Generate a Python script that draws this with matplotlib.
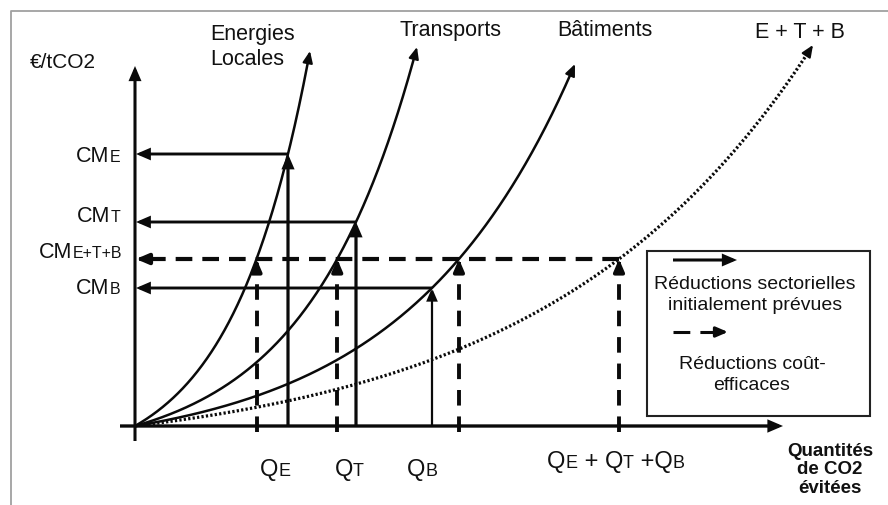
import numpy as np
import matplotlib
matplotlib.use("Agg")
import matplotlib.pyplot as plt
from matplotlib.patches import FancyArrowPatch, Rectangle
from matplotlib.lines import Line2D
from matplotlib.offsetbox import TextArea, HPacker, AnnotationBbox

plt.rcParams['font.family'] = ['Liberation Sans', 'DejaVu Sans']

# ---------------- data (schematic units) ----------------
sector_keys = ['E', 'T', 'B']
curve_labels = ['Energies\nLocales', 'Transports', 'Bâtiments', 'E + T + B']
cm_initial = [272, 204, 138]          # CM_E, CM_T, CM_B
q_initial = [153, 221, 297]           # Q_E, Q_T, Q_B
cm_common = 167                       # CM_E+T+B
q_total = 484                         # Q_E + Q_T + Q_B
tips_x = [175, 282, 440, 678]         # end of each curve (arrow tip)
tips_y = [375, 379, 362, 381]
legend_texts = ['Réductions sectorielles\ninitialement prévues',
                'Réductions coût-\nefficaces']
y_axis_label = '€/tCO2'
x_axis_label = 'Quantités\nde CO2\névitées'

# ---------------- figure ----------------
fig = plt.figure(figsize=(8.88, 5.06), dpi=100)
ax = fig.add_axes([0, 0, 1, 1])
ax.set_xlim(-135, 753)
ax.set_ylim(-79, 427)
ax.axis('off')


def fit_curve(x1, y1, x2, y2):
    """parameters of y = a*(exp(b x)-1) passing through two points"""
    target = y2 / y1
    lo, hi = 1e-7, 0.2
    for _ in range(200):
        mid = 0.5 * (lo + hi)
        r = np.expm1(mid * x2) / np.expm1(mid * x1)
        if r < target:
            lo = mid
        else:
            hi = mid
    b = 0.5 * (lo + hi)
    a = y1 / np.expm1(b * x1)
    return a, b


HEAD = '-|>,head_length=0.7,head_width=0.3'
INK = '#0a0a0a'


def head(x0, y0, x1, y1, lw):
    p = FancyArrowPatch((x0, y0), (x1, y1), arrowstyle=HEAD, mutation_scale=10,
                        lw=lw, color=INK, shrinkA=0, shrinkB=0, zorder=4)
    ax.add_patch(p)


def solid_arrow(x0, y0, x1, y1, lw):
    p = FancyArrowPatch((x0, y0), (x1, y1), arrowstyle=HEAD, mutation_scale=10,
                        lw=lw, color=INK, shrinkA=0, shrinkB=0,
                        joinstyle='miter', capstyle='butt', zorder=4)
    ax.add_patch(p)


def dashed_arrow(x0, y0, x1, y1, lw, dashes):
    L = np.hypot(x1 - x0, y1 - y0)
    ux, uy = (x1 - x0) / L, (y1 - y0) / L
    hl = 9
    ax.plot([x0, x1 - ux * hl], [y0, y1 - uy * hl], color=INK, lw=lw,
            dashes=dashes, solid_capstyle='butt', dash_capstyle='butt', zorder=3)
    head(x1 - ux * hl, y1 - uy * hl, x1, y1, lw)


# ---------------- axes ----------------
solid_arrow(0, -15, 0, 360, 2.2)
solid_arrow(-15, 0, 648, 0, 2.4)

# ---------------- curves ----------------
params = []
anchors_x = q_initial + [q_total]
anchors_y = cm_initial + [cm_common]
for i in range(4):
    a, b = fit_curve(anchors_x[i], anchors_y[i], tips_x[i], tips_y[i])
    params.append((a, b))
    x_end = np.log1p(tips_y[i] / a) / b
    xs = np.linspace(0, x_end, 400)
    ys = a * np.expm1(b * xs)
    d = np.hypot(xs - xs[-1], ys - ys[-1])
    k = np.argmin(np.abs(d - 9))
    if i < 3:
        ax.plot(xs[:k + 1], ys[:k + 1], color=INK, lw=1.8, zorder=2,
                solid_capstyle='butt')
    else:
        ax.plot(xs[:k + 1], ys[:k + 1], color=INK, lw=2.3, zorder=2,
                dashes=(0.7, 0.7), dash_capstyle='butt')
    head(xs[k], ys[k], xs[-1], ys[-1], 1.5)

# ---------------- initial (solid) reductions ----------------
v_lw = [2.3, 2.3, 1.6]
for i in range(3):
    solid_arrow(q_initial[i], cm_initial[i], 1, cm_initial[i], 2.1)
    solid_arrow(q_initial[i], 0, q_initial[i], cm_initial[i], v_lw[i])

# ---------------- cost-efficient (dashed) reductions ----------------
q_eff = [np.log1p(cm_common / a) / b for (a, b) in params[:3]]
dashed_arrow(q_total, cm_common, 1, cm_common, 3.0, (4.0, 2.4))
for q in q_eff + [q_total]:
    dashed_arrow(q, -6, q, cm_common, 2.8, (4.0, 2.8))

# ---------------- labels ----------------
txt_kw = dict(color='#111111')
ax.text(75, 380, curve_labels[0], fontsize=15.5, ha='left', va='center',
        linespacing=1.3, **txt_kw)
ax.text(315, 397, curve_labels[1], fontsize=15.5, ha='center', va='center', **txt_kw)
ax.text(470, 397, curve_labels[2], fontsize=15.5, ha='center', va='center', **txt_kw)
ax.text(665, 395, curve_labels[3], fontsize=15.5, ha='center', va='center', **txt_kw)
ax.text(-72, 365, y_axis_label, fontsize=15, ha='center', va='center', **txt_kw)
ax.text(695, -43, x_axis_label, fontsize=13.5, fontweight='bold', ha='center',
        va='center', linespacing=1.15, **txt_kw)


def mixed(parts, xy, align):
    kids = [TextArea(t, textprops=dict(fontsize=s, color='#111111')) for t, s in parts]
    box = HPacker(children=kids, align='baseline', pad=0, sep=0)
    ab = AnnotationBbox(box, xy, xycoords='data', box_alignment=align,
                        frameon=False, pad=0)
    ax.add_artist(ab)


BIG, SMALL = 15.5, 11.5
cm_suffix = ['E', 'T', 'B']
cm_label_y = [270, 210, 138]
for s, yy in zip(cm_suffix, cm_label_y):
    mixed([('CM', BIG), (s, SMALL)], (-15, yy), (1, 0.5))
mixed([('CM', BIG), ('E+T+B', SMALL)], (-13, 174), (1, 0.5))

q_label_x = [140, 214, 287]
for s, xx in zip(cm_suffix, q_label_x):
    mixed([('Q', 17), (s, 13)], (xx, -43), (0.5, 0.5))
mixed([('Q', 17), ('E', 13), (' + Q', 17), ('T', 13), (' +Q', 17), ('B', 13)],
      (481, -35), (0.5, 0.5))

# ---------------- legend ----------------
ax.add_patch(Rectangle((512, 10), 223, 165, fill=False, lw=1.5,
                       edgecolor='#222222', zorder=3))
solid_arrow(538, 166, 602, 166, 2.2)
dashed_arrow(538, 94, 593, 94, 2.2, (5.5, 3.3))
ax.text(620, 132, legend_texts[0], fontsize=14, ha='center', va='center',
        linespacing=1.25, **txt_kw)
ax.text(617, 52, legend_texts[1], fontsize=14, ha='center', va='center',
        linespacing=1.25, **txt_kw)

# ---------------- outer frame (figure coordinates) ----------------
fx, fy = 10.5 / 888, 1 - 11.5 / 506
fig.add_artist(Line2D([fx, fx, 1.0], [0.0, fy, fy], transform=fig.transFigure,
                      color='#a0a0a0', lw=1.3, zorder=0))

fig.savefig('out.png', dpi=100)
